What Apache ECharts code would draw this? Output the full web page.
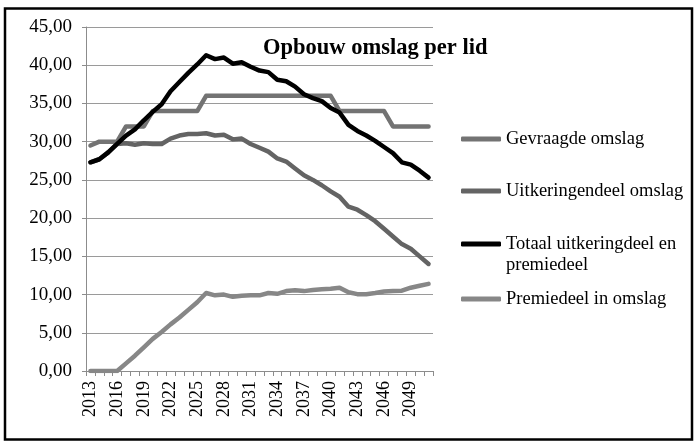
<!DOCTYPE html>
<html><head><meta charset="utf-8">
<script src="https://cdn.jsdelivr.net/npm/echarts@6/dist/echarts.min.js"></script>
<style>html,body{margin:0;padding:0;background:#fff}#c{width:697px;height:441px}</style>
</head><body><div id="c"></div>
<script>
const years = ['2013','2014','2015','2016','2017','2018','2019','2020','2021','2022','2023','2024','2025','2026','2027','2028','2029','2030','2031','2032','2033','2034','2035','2036','2037','2038','2039','2040','2041','2042','2043','2044','2045','2046','2047','2048','2049','2050','2051'];
const gevraagde = [29.5,30,30,30,32,32,32,34,34,34,34,34,34,36,36,36,36,36,36,36,36,36,36,36,36,36,36,36,34,34,34,34,34,34,32,32,32,32,32];
const uitkering = [27.3,27.7,28.6,29.7,29.8,29.6,29.8,29.7,29.7,30.4,30.8,31.0,31.0,31.1,30.8,30.9,30.3,30.4,29.7,29.2,28.7,27.8,27.4,26.5,25.6,25.0,24.3,23.5,22.8,21.5,21.1,20.4,19.6,18.6,17.6,16.6,16.0,15.0,14.0];
const totaal = [27.3,27.7,28.6,29.7,30.8,31.6,32.8,33.9,34.9,36.6,37.8,39.0,40.1,41.3,40.8,41.0,40.2,40.4,39.8,39.3,39.1,38.1,37.9,37.2,36.2,35.7,35.3,34.4,33.8,32.2,31.4,30.8,30.1,29.3,28.5,27.3,27.0,26.2,25.3];
const premie = [0,0,0,0,1.0,2.0,3.1,4.2,5.1,6.1,7.0,8.0,9.0,10.2,9.9,10.0,9.7,9.85,9.9,9.9,10.2,10.1,10.45,10.55,10.45,10.6,10.7,10.75,10.9,10.3,10.05,10.05,10.2,10.4,10.45,10.5,10.9,11.15,11.4];
const names = ['Gevraagde omslag','Uitkeringendeel omslag','Totaal uitkeringdeel en premiedeel','Premiedeel in omslag'];
const colors = ['#737373','#646464','#000000','#878787'];
const legendCenters = [139, 191, 244, 299];

const FONT = 'Liberation Serif';
const chart = echarts.init(document.getElementById('c'));
const seriesData = [gevraagde, uitkering, totaal, premie];
const legendText = {fontFamily: FONT, fontSize: 18.5, color: '#000', lineHeight: 20};
chart.setOption({
  animation: false,
  grid: {left: 86, right: 264, top: 27, bottom: 70, containLabel: false},
  xAxis: {
    type: 'category', data: years, boundaryGap: true,
    axisLine: {lineStyle: {color: '#8c8c8c', width: 1}},
    axisTick: {show: true, interval: 0, length: 5, lineStyle: {color: '#8c8c8c'}},
    axisLabel: {interval: 2, rotate: 90, margin: 10, fontFamily: FONT, fontSize: 18, color: '#000'},
    splitLine: {show: false}
  },
  yAxis: {
    type: 'value', min: 0, max: 45, interval: 5,
    axisLine: {show: true, lineStyle: {color: '#8c8c8c', width: 1}},
    axisTick: {show: true, length: 4, lineStyle: {color: '#8c8c8c'}},
    axisLabel: {margin: 14, fontFamily: FONT, fontSize: 19, color: '#000',
      formatter: v => v.toFixed(2).replace('.', ',')},
    splitLine: {lineStyle: {color: '#9a9a9a', width: 1}}
  },
  legend: names.map((n, i) => ({
    data: [n], orient: 'vertical', left: 461, top: legendCenters[i] - 10, padding: 0,
    itemWidth: 40, itemHeight: 5, icon: 'roundRect',
    textStyle: legendText,
    formatter: name => (i === 2 ? 'Totaal uitkeringdeel en' : name),
    selectedMode: false
  })),
  series: names.map((n, i) => ({
    name: n, type: 'line', data: seriesData[i], color: colors[i],
    symbol: 'none', smooth: false,
    lineStyle: {width: 4.5, color: colors[i], cap: 'round', join: 'round'}
  })),
  graphic: [
    {type: 'text', left: 263, top: 37, z: 100,
      style: {text: 'Opbouw omslag per lid', fontFamily: FONT, fontSize: 22.5, fontWeight: 'bold', fill: '#000'}},
    {type: 'text', left: 506, top: 256, z: 100,
      style: {text: 'premiedeel', fontFamily: FONT, fontSize: 18.5, fill: '#000'}},
    {type: 'rect', shape: {x: 5, y: 8.5, width: 687, height: 431}, z: 100,
      style: {fill: 'none', stroke: '#000', lineWidth: 2.5}}
  ]
});
</script></body></html>
